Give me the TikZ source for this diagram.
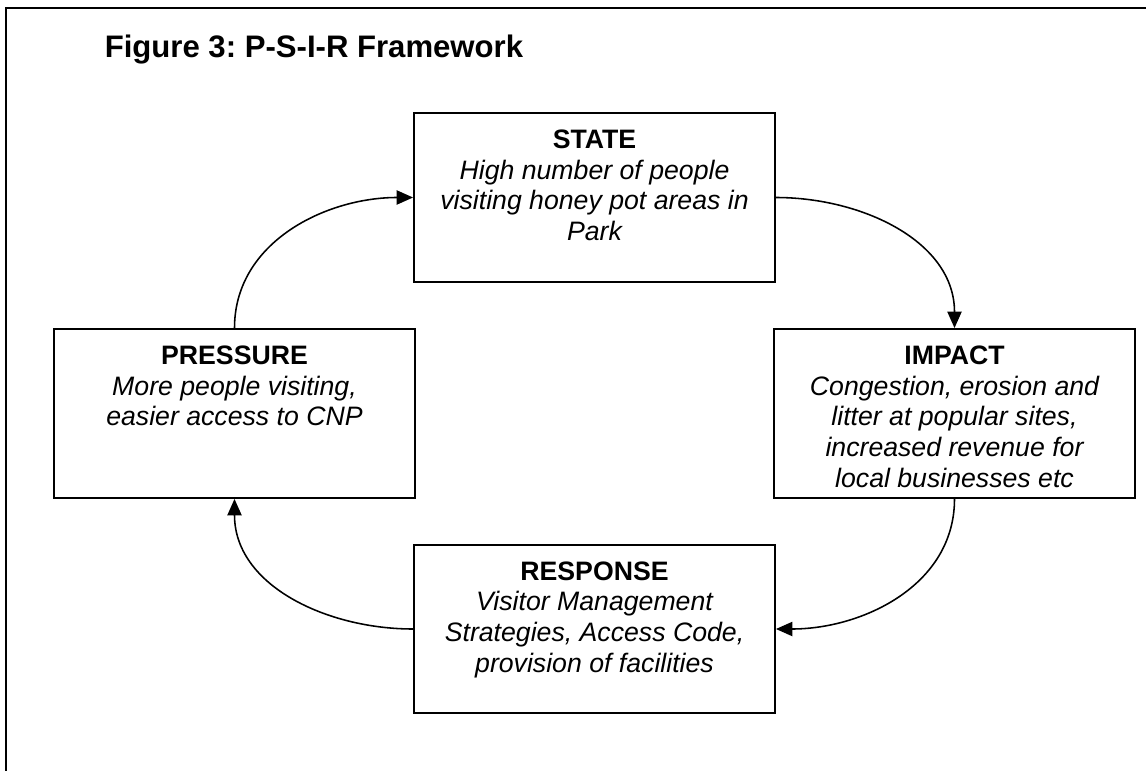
\documentclass[tikz,border=0pt]{standalone}
\usepackage{fontspec}
\setmainfont{Liberation Sans}
\frenchspacing
\usetikzlibrary{arrows.meta}

% heading in bold, body in italics, text hung from the top of the box
\newcommand{\stagetext}[2]{\parbox[c][76pt][t]{162.4pt}{\centering\rule{0pt}{16pt}\textbf{#1}\\{\itshape #2}}}

\begin{document}
\begin{tikzpicture}[x=0.45pt,y=-0.45pt,->,>={Triangle[length=7.4pt,width=6.4pt]},line width=0.7pt,
    stage/.style={draw,line width=0.9pt,inner sep=0pt,font=\fontsize{12}{13.8}\selectfont},
    heading/.style={anchor=base west,inner sep=0pt,font=\fontsize{14}{17}\selectfont\bfseries}]
                \useasboundingbox (0,0) rectangle (1146,771);
                \draw[-,line width=0.9pt] (6,771) -- (6,8.5) -- (1146,8.5);

                \node[heading] (title) at (104,58) {Figure 3: P-S-I-R Framework};

                \node[stage] (state) at (594.5,197.5) {\stagetext{STATE}{High number of people\\visiting honey pot areas in\\Park}};
                \node[stage] (pressure) at (234.5,413.5) {\stagetext{PRESSURE}{More people visiting,\\easier access to CNP}};
                \node[stage] (impact) at (954.5,413.5) {\stagetext{IMPACT}{Congestion, erosion and\\litter at popular sites,\\increased revenue for\\local businesses etc}};
                \node[stage] (response) at (594.5,629) {\stagetext{RESPONSE}{Visitor Management\\Strategies, Access Code,\\provision of facilities}};

                \path
                    (pressure.north) edge[out=90,in=180] (state.west)
                    (state.east) edge[out=0,in=90] (impact.north)
                    (impact.south) edge[out=-90,in=0] (response.east)
                    (response.west) edge[out=180,in=-90] (pressure.south)
                ;

            \end{tikzpicture}
\end{document}
